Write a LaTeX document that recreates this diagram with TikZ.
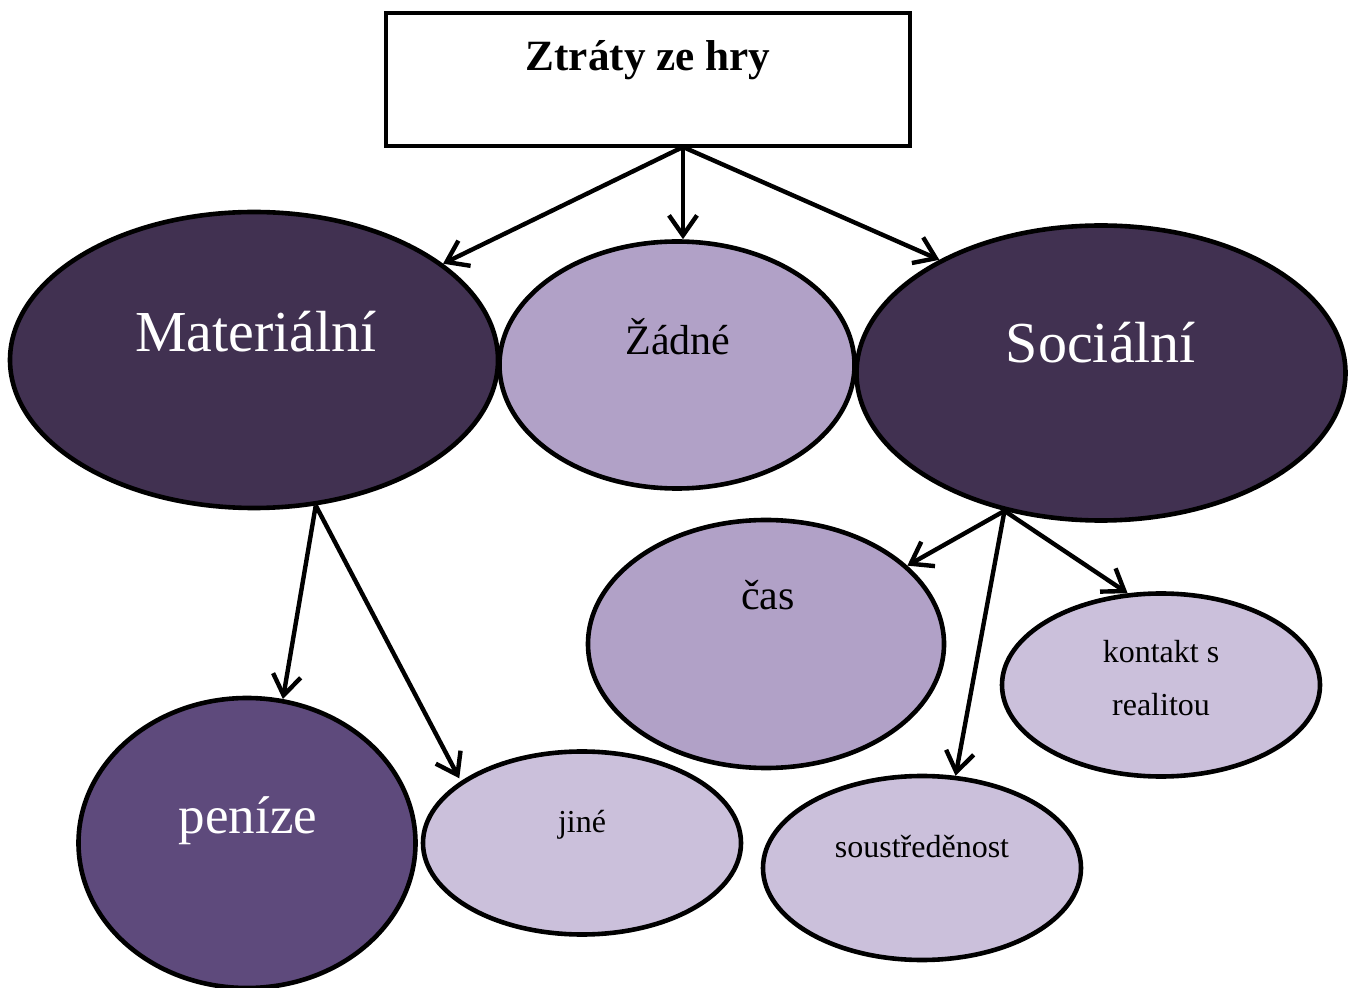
\documentclass[tikz,border=0pt]{standalone}
\usepackage{fontspec}
\setmainfont{Liberation Serif}
\usetikzlibrary{shapes.geometric,arrows.meta}

\definecolor{darkplum}{HTML}{413151}
\definecolor{midplum}{HTML}{B1A1C7}
\definecolor{paleplum}{HTML}{CBC0DB}
\definecolor{penplum}{HTML}{5E4A7C}

\tikzset{
  blob/.style={ellipse, draw=black, line width=2.3pt, inner sep=0pt},
  lbl/.style={anchor=base, inner sep=0pt},
  bigwhite/.style={lbl, text=white, font=\fontsize{29pt}{34pt}\selectfont},
  midwhite/.style={lbl, text=white, font=\fontsize{26.5pt}{31pt}\selectfont},
  midtext/.style={lbl, font=\fontsize{21pt}{25pt}\selectfont},
  smalltext/.style={lbl, font=\fontsize{16pt}{19pt}\selectfont},
  arr/.style={line width=2.2pt, -{Straight Barb[length=10pt, width=14pt]}}
}

\begin{document}
\begin{tikzpicture}[x=0.5pt, y=-0.5pt]
\useasboundingbox (0,0) rectangle (1355,988);

% top box
\node[draw=black, line width=2.3pt, minimum width=262pt, minimum height=66.5pt, inner sep=0pt] (top) at (648,79.5) {};
\node[lbl, font=\fontsize{21.6pt}{25pt}\selectfont\bfseries] (toptext) at (648,71) {Ztráty ze hry};

% first level
\node[blob, fill=darkplum, minimum width=244pt, minimum height=148pt] (mat) at (254,360) {};
\node[bigwhite] (matlbl) at (256,352) {Materiální};
\node[blob, fill=midplum, minimum width=177.5pt, minimum height=123.5pt] (zad) at (677,365) {};
\node[midtext] (zadlbl) at (678,355) {Žádné};
\node[blob, fill=darkplum, minimum width=244.5pt, minimum height=147.5pt] (soc) at (1101,373) {};
\node[bigwhite] (soclbl) at (1101,363) {Sociální};

% second level
\node[blob, fill=penplum, minimum width=168.5pt, minimum height=145pt] (pen) at (247,843) {};
\node[midwhite] (penlbl) at (248,833) {peníze};
\node[blob, fill=paleplum, minimum width=159pt, minimum height=91.5pt] (jin) at (582,843) {};
\node[smalltext] (jinlbl) at (582,832) {jiné};
\node[blob, fill=midplum, minimum width=178pt, minimum height=124pt] (cas) at (766,644) {};
\node[midtext] (caslbl) at (768,610) {čas};
\node[blob, fill=paleplum, minimum width=159pt, minimum height=92pt] (sou) at (922,868) {};
\node[smalltext] (soulbl) at (922,857) {soustředěnost};
\node[blob, fill=paleplum, minimum width=159pt, minimum height=91.5pt] (kon) at (1161,685) {};
\node[smalltext] (konlbla) at (1161,662) {kontakt s};
\node[smalltext] (konlblb) at (1161,715) {realitou};

% arrows
\coordinate (topout) at (683,147);
\draw[arr] (topout) -- (mat.27.5);
\draw[arr] (topout) -- (topout |- zad.north);
\draw[arr] (topout) -- (soc.145);

\coordinate (matout) at (mat.-67);
\draw[arr] (matout) -- (pen.76);
\draw[arr] (matout) -- ([xshift=-3pt]jin.151);

\coordinate (socout) at (soc.235);
\draw[arr] (socout) -- (cas.29);
\draw[arr] (socout) -- (sou.70);
\draw[arr] (socout) -- (kon.110);
\end{tikzpicture}
\end{document}
